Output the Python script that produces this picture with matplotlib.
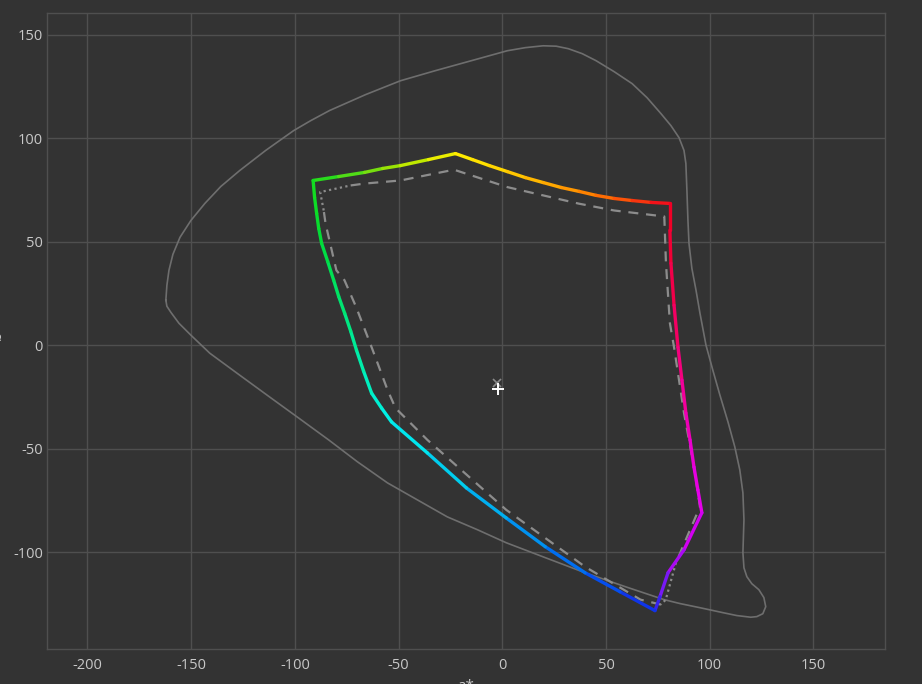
import numpy as np
import matplotlib
matplotlib.use("Agg")
import matplotlib.pyplot as plt
from matplotlib.collections import LineCollection
from matplotlib.colors import to_rgb

# --- data (a*, b*) ---

# outer reference outline
outline_a = [-162.2, -161.7, -160.7, -158.8, -155.4, -150.1, -143.4, -135.7, -126.6, -114.1,
             -100.6, -92.4, -83.3, -65.9, -49.1, -32.2, -14.9, 2.4, 11.1, 19.7,
             26.0, 31.8, 38.5, 45.2, 53.9, 62.6, 69.8, 76.5, 81.3, 85.2,
             87.6, 88.5, 89.0, 89.5, 90.0, 91.4, 93.4, 95.3, 98.2, 101.5,
             104.9, 108.8, 112.1, 114.5, 116.0, 116.5, 116.0, 116.5, 117.9, 120.3,
             123.7, 126.1, 127.0, 125.6, 122.7, 119.8, 113.1, 106.4, 95.3, 85.7,
             78.0, 59.2, 39.9, 20.7, 1.9, -12.0, -26.5, -40.9, -55.3, -69.8,
             -83.7, -98.2, -112.1, -126.6, -141.0, -150.1, -155.9, -159.8, -161.7, -162.2]
outline_b = [21.7, 28.9, 36.2, 43.9, 52.1, 60.3, 68.5, 76.7, 84.4, 94.1,
             103.7, 108.5, 113.4, 121.1, 127.8, 132.7, 137.5, 142.3, 143.8, 144.7,
             144.5, 143.3, 140.9, 137.5, 132.2, 126.4, 119.6, 111.9, 106.1, 100.3,
             94.1, 87.8, 74.8, 60.3, 49.2, 37.1, 26.5, 15.4, 0.0, -12.1,
             -24.1, -37.1, -49.2, -60.3, -71.4, -84.4, -100.3, -107.6, -111.9, -115.3,
             -118.2, -122.0, -126.4, -129.8, -131.2, -131.5, -130.7, -129.3, -126.9, -124.9,
             -123.0, -116.7, -110.0, -102.7, -95.5, -89.2, -83.0, -74.8, -66.6, -56.4,
             -45.8, -35.2, -25.1, -14.5, -3.9, 4.8, 10.6, 15.9, 18.8, 21.7]

# coloured gamut boundary (G -> Y -> R -> M -> B -> C -> G)
gamut_a = [-91.2, -78.9, -66.4, -57.7, -49.1, -35.6, -22.6, -14.4, -6.3, 2.4,
           11.1, 19.7, 28.4, 37.1, 45.2, 53.9, 62.6, 71.7, 80.8, 80.8,
           81.3, 82.8, 84.7, 86.6, 88.5, 90.5, 92.4, 94.3, 96.2, 87.6,
           79.9, 76.0, 73.6, 56.8, 39.9, 20.7, 1.9, -17.3, -36.1, -53.4,
           -58.2, -63.0, -66.9, -70.3, -73.1, -76.0, -78.9, -81.3, -84.2, -87.1,
           -88.5, -89.5, -90.5, -91.2]
gamut_b = [79.6, 81.5, 83.5, 85.4, 86.8, 89.7, 92.6, 89.7, 86.8, 83.9,
           81.0, 78.6, 76.2, 74.3, 72.4, 70.9, 69.9, 69.0, 68.5, 55.5,
           39.6, 19.3, -1.0, -16.9, -32.8, -45.8, -58.9, -70.0, -81.0, -98.9,
           -110.0, -121.6, -128.3, -119.2, -110.0, -97.4, -83.5, -69.0, -52.1, -37.1,
           -30.4, -23.2, -12.5, -2.4, 6.8, 15.4, 23.6, 31.4, 40.5, 49.2,
           56.4, 63.7, 71.4, 79.6]
gamut_colors = ['#14dc1e', '#3cdc1a', '#64dc14', '#88e00a', '#aae600', '#d6eb00', '#fff000',
                '#ffe600', '#ffdc00', '#ffcd00', '#ffbe00', '#ffaf00', '#ffa000', '#ff8c00',
                '#ff7800', '#fc5f05', '#fa460a', '#f52314', '#f0001e', '#f0002d', '#f0003c',
                '#f20055', '#f5006e', '#f3008c', '#f000aa', '#eb00c3', '#e600dc', '#e600e6',
                '#e600f0', '#be00f0', '#9614f5', '#5a1ef5', '#1428e6', '#0a41eb', '#005af0',
                '#0082f0', '#00a0f0', '#00bef0', '#00dceb', '#00f0f0', '#00f0dc', '#00f0c8',
                '#00eeb4', '#00eba0', '#00e88c', '#00e678', '#00e369', '#00e15a', '#00de4b',
                '#00dc3c', '#05dc32', '#0adc28', '#0fdc23', '#14dc1e']

# reference gamut, dashed parts and dotted corners
dash1_a = [-73.1, -66.4, -49.1, -23.3, 2.4, 36.9, 53.9, 78.1, 78.9, 80.8, 82.8, 87.6, 92.4, 95.3, 83.7]
dash1_b = [77.2, 78.1, 79.6, 84.8, 76.4, 68.4, 65.1, 62.2, 39.6, 10.6, -1.0, -32.8, -58.9, -78.1, -105.2]
dot1_a = [83.7, 78.8, 76.5]
dot1_b = [-105.2, -123.0, -125.4]
dash2_a = [76.5, 66.6, 39.9, 1.9, -36.1, -51.5, -55.3, -63.0, -70.5, -76.1, -80.0, -85.2, -86.1]
dash2_b = [-125.4, -123.0, -107.1, -79.6, -45.8, -30.4, -21.7, -1.0, 18.5, 31.4, 36.2, 58.7, 65.1]
dot2_a = [-86.1, -87.8, -73.1]
dot2_b = [65.1, 74.0, 77.2]

# white point markers
white_a, white_b = -2.2, -21.4
ref_white_a, ref_white_b = -2.5, -18.5

x_ticks = [-200, -150, -100, -50, 0, 50, 100, 150]
y_ticks = [-100, -50, 0, 50, 100, 150]

# --- style ---
bg = '#333333'
grid_col = '#4f4f4f'
text_col = '#c8c8c8'
plt.rcParams['font.family'] = ['Open Sans', 'DejaVu Sans']
plt.rcParams['axes.unicode_minus'] = False

fig = plt.figure(figsize=(9.22, 6.84), dpi=100, facecolor=bg)
ax = fig.add_axes([47 / 922, 1 - 649.3 / 684, 838 / 922, 636 / 684])
ax.set_facecolor(bg)

ax.set_xlim(-219.5, 184.5)
ax.set_ylim(-147.0, 160.4)
ax.set_xticks(x_ticks)
ax.set_yticks(y_ticks)
ax.grid(True, color=grid_col, linewidth=1.0)
ax.set_axisbelow(True)
for s in ax.spines.values():
    s.set_color(grid_col)
    s.set_linewidth(1.0)
ax.tick_params(length=0, colors=text_col, labelsize=10.5)
ax.tick_params(axis='y', pad=3)
ax.tick_params(axis='x', pad=6)

ax.set_xlabel('a*', color=text_col, fontsize=11)
ax.set_ylabel('b*', color=text_col, fontsize=11)
ax.xaxis.set_label_coords(0.5, -0.046)
ax.yaxis.set_label_coords(-0.05, 0.5)

# outline
ax.plot(outline_a, outline_b, color='#6e6e6e', linewidth=1.2, zorder=2)

# reference gamut
ax.plot(dash1_a, dash1_b, color='#8c8c8c', linewidth=1.6, linestyle=(0, (4.5, 3.5)), zorder=3)
ax.plot(dash2_a, dash2_b, color='#8c8c8c', linewidth=1.6, linestyle=(0, (4.5, 3.5)), zorder=3)
ax.plot(dot1_a, dot1_b, color='#8c8c8c', linewidth=1.6, linestyle=(0, (1, 1.5)), zorder=3)
ax.plot(dot2_a, dot2_b, color='#8c8c8c', linewidth=1.6, linestyle=(0, (1, 1.5)), zorder=3)

# coloured gamut boundary
pts = np.column_stack([gamut_a, gamut_b])
segs = np.stack([pts[:-1], pts[1:]], axis=1)
cols = [tuple((np.array(to_rgb(c1)) + np.array(to_rgb(c2))) / 2)
        for c1, c2 in zip(gamut_colors[:-1], gamut_colors[1:])]
lc = LineCollection(segs, colors=cols, linewidths=2.4, capstyle='round', joinstyle='round', zorder=4)
ax.add_collection(lc)

# white points
ax.plot(ref_white_a, ref_white_b, marker='x', color='#8a8a8a', markersize=5.5, mew=1.2, zorder=5)
ax.plot(white_a, white_b, marker='+', color='white', markersize=9, mew=1.4, zorder=6)

fig.savefig('out.png', dpi=100, facecolor=bg)
